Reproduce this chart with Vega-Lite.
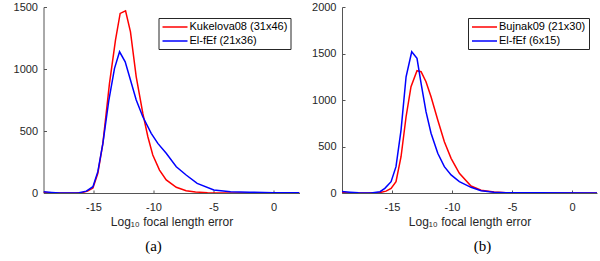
{
  "$schema": "https://vega.github.io/schema/vega-lite/v6.json",
  "padding": {"left": 12.5, "top": 1, "right": 0, "bottom": 0},
  "spacing": 11.5,
  "background": "white",
  "config": {
    "view": {"stroke": null},
    "font": "Liberation Sans",
    "axis": {
      "labelFont": "Liberation Sans", "labelFontSize": 11, "labelColor": "#262626",
      "titleFont": "Liberation Sans", "titleFontSize": 12, "titleFontWeight": "normal", "titleColor": "#262626",
      "domainColor": "#555555", "tickColor": "#555555", "grid": false
    },
    "legend": {
      "symbolType": "M-2.5,0H2.5", "symbolSize": 100, "symbolStrokeWidth": 1.5, "symbolOffset": 7.5,
      "labelFont": "Liberation Sans", "labelFontSize": 11, "labelColor": "#000000",
      "strokeColor": "#262626", "fillColor": "#ffffff", "padding": 3, "rowPadding": 3, "labelOffset": 8.5
    },
    "title": {"font": "Liberation Serif", "fontSize": 15, "fontWeight": "normal", "color": "#000000"}
  },
  "resolve": {"scale": {"color": "independent", "x": "independent", "y": "independent"}, "legend": {"color": "independent"}},
  "hconcat": [
    {
      "width": 256, "height": 186,
      "title": {"text": "(a)", "orient": "bottom", "frame": "group", "dx": -18, "offset": 12},
      "data": {"values": [
        {"method": "Kukelova08 (31x46)", "x": -19.17, "count": 5},
        {"method": "Kukelova08 (31x46)", "x": -18.5, "count": 2},
        {"method": "Kukelova08 (31x46)", "x": -17.5, "count": 0},
        {"method": "Kukelova08 (31x46)", "x": -16.5, "count": 0},
        {"method": "Kukelova08 (31x46)", "x": -15.9, "count": 5},
        {"method": "Kukelova08 (31x46)", "x": -15.5, "count": 15},
        {"method": "Kukelova08 (31x46)", "x": -15.05, "count": 40},
        {"method": "Kukelova08 (31x46)", "x": -14.64, "count": 159},
        {"method": "Kukelova08 (31x46)", "x": -14.22, "count": 400},
        {"method": "Kukelova08 (31x46)", "x": -13.67, "count": 884},
        {"method": "Kukelova08 (31x46)", "x": -13.17, "count": 1233},
        {"method": "Kukelova08 (31x46)", "x": -12.78, "count": 1448},
        {"method": "Kukelova08 (31x46)", "x": -12.33, "count": 1469},
        {"method": "Kukelova08 (31x46)", "x": -11.92, "count": 1300},
        {"method": "Kukelova08 (31x46)", "x": -11.44, "count": 937},
        {"method": "Kukelova08 (31x46)", "x": -10.89, "count": 642},
        {"method": "Kukelova08 (31x46)", "x": -10.47, "count": 454},
        {"method": "Kukelova08 (31x46)", "x": -10.06, "count": 306},
        {"method": "Kukelova08 (31x46)", "x": -9.5, "count": 185},
        {"method": "Kukelova08 (31x46)", "x": -8.94, "count": 105},
        {"method": "Kukelova08 (31x46)", "x": -8.1, "count": 46},
        {"method": "Kukelova08 (31x46)", "x": -7.28, "count": 19},
        {"method": "Kukelova08 (31x46)", "x": -6.5, "count": 8},
        {"method": "Kukelova08 (31x46)", "x": -5.5, "count": 3},
        {"method": "Kukelova08 (31x46)", "x": -4, "count": 1},
        {"method": "Kukelova08 (31x46)", "x": -2, "count": 0},
        {"method": "Kukelova08 (31x46)", "x": 2.17, "count": 0},
        {"method": "El-fEf (21x36)", "x": -19.17, "count": 10},
        {"method": "El-fEf (21x36)", "x": -18.5, "count": 5},
        {"method": "El-fEf (21x36)", "x": -17.8, "count": 1},
        {"method": "El-fEf (21x36)", "x": -17, "count": 0},
        {"method": "El-fEf (21x36)", "x": -16.2, "count": 3},
        {"method": "El-fEf (21x36)", "x": -15.6, "count": 15},
        {"method": "El-fEf (21x36)", "x": -15.05, "count": 51},
        {"method": "El-fEf (21x36)", "x": -14.64, "count": 172},
        {"method": "El-fEf (21x36)", "x": -14.22, "count": 400},
        {"method": "El-fEf (21x36)", "x": -13.72, "count": 750},
        {"method": "El-fEf (21x36)", "x": -13.25, "count": 1005},
        {"method": "El-fEf (21x36)", "x": -12.83, "count": 1139},
        {"method": "El-fEf (21x36)", "x": -12.36, "count": 1058},
        {"method": "El-fEf (21x36)", "x": -11.92, "count": 911},
        {"method": "El-fEf (21x36)", "x": -11.44, "count": 750},
        {"method": "El-fEf (21x36)", "x": -10.89, "count": 615},
        {"method": "El-fEf (21x36)", "x": -10.19, "count": 481},
        {"method": "El-fEf (21x36)", "x": -9.64, "count": 400},
        {"method": "El-fEf (21x36)", "x": -8.94, "count": 320},
        {"method": "El-fEf (21x36)", "x": -8.1, "count": 212},
        {"method": "El-fEf (21x36)", "x": -7.28, "count": 145},
        {"method": "El-fEf (21x36)", "x": -6.36, "count": 78},
        {"method": "El-fEf (21x36)", "x": -4.97, "count": 24},
        {"method": "El-fEf (21x36)", "x": -3.58, "count": 11},
        {"method": "El-fEf (21x36)", "x": -2, "count": 6},
        {"method": "El-fEf (21x36)", "x": 0, "count": 3},
        {"method": "El-fEf (21x36)", "x": 2.17, "count": 2}
      ]},
      "mark": {"type": "line", "strokeWidth": 1.5, "clip": true},
      "encoding": {
        "x": {"field": "x", "type": "quantitative",
          "scale": {"domain": [-19.17, 2.17], "nice": false, "zero": false},
          "axis": {"values": [-15, -10, -5, 0], "labelExpr": "'' + datum.value", "title": "Log₁₀ focal length error", "tickSize": -3, "labelPadding": 11.5, "titlePadding": 3.5}},
        "y": {"field": "count", "type": "quantitative",
          "scale": {"domain": [0, 1500], "nice": false},
          "axis": {"values": [0, 500, 1000, 1500], "labelExpr": "'' + datum.value", "title": null, "tickSize": -3, "labelPadding": 9}},
        "color": {"field": "method", "type": "nominal",
          "scale": {"domain": ["Kukelova08 (31x46)", "El-fEf (21x36)"], "range": ["#ff0000", "#0000ff"]},
          "legend": {"title": null, "orient": "none", "legendX": 115, "legendY": 11}}
      }
    },
    {
      "width": 255, "height": 186,
      "title": {"text": "(b)", "orient": "bottom", "frame": "group", "dx": 13, "offset": 12},
      "data": {"values": [
        {"method": "Bujnak09 (21x30)", "x": -19.17, "count": 3},
        {"method": "Bujnak09 (21x30)", "x": -18, "count": 1},
        {"method": "Bujnak09 (21x30)", "x": -17, "count": 0},
        {"method": "Bujnak09 (21x30)", "x": -16, "count": 5},
        {"method": "Bujnak09 (21x30)", "x": -15.5, "count": 20},
        {"method": "Bujnak09 (21x30)", "x": -15.08, "count": 50},
        {"method": "Bujnak09 (21x30)", "x": -14.67, "count": 122},
        {"method": "Bujnak09 (21x30)", "x": -14.25, "count": 390},
        {"method": "Bujnak09 (21x30)", "x": -13.83, "count": 820},
        {"method": "Bujnak09 (21x30)", "x": -13.42, "count": 1143},
        {"method": "Bujnak09 (21x30)", "x": -12.92, "count": 1315},
        {"method": "Bujnak09 (21x30)", "x": -12.58, "count": 1304},
        {"method": "Bujnak09 (21x30)", "x": -12.17, "count": 1197},
        {"method": "Bujnak09 (21x30)", "x": -11.75, "count": 1035},
        {"method": "Bujnak09 (21x30)", "x": -11.19, "count": 785},
        {"method": "Bujnak09 (21x30)", "x": -10.64, "count": 552},
        {"method": "Bujnak09 (21x30)", "x": -10.08, "count": 373},
        {"method": "Bujnak09 (21x30)", "x": -9.39, "count": 212},
        {"method": "Bujnak09 (21x30)", "x": -8.42, "count": 75},
        {"method": "Bujnak09 (21x30)", "x": -7.58, "count": 30},
        {"method": "Bujnak09 (21x30)", "x": -6.5, "count": 10},
        {"method": "Bujnak09 (21x30)", "x": -5.5, "count": 4},
        {"method": "Bujnak09 (21x30)", "x": -4, "count": 1},
        {"method": "Bujnak09 (21x30)", "x": 2.08, "count": 0},
        {"method": "El-fEf (6x15)", "x": -19.17, "count": 15},
        {"method": "El-fEf (6x15)", "x": -18.5, "count": 8},
        {"method": "El-fEf (6x15)", "x": -17.8, "count": 2},
        {"method": "El-fEf (6x15)", "x": -16.75, "count": 0},
        {"method": "El-fEf (6x15)", "x": -16, "count": 14},
        {"method": "El-fEf (6x15)", "x": -15.6, "count": 50},
        {"method": "El-fEf (6x15)", "x": -15.08, "count": 122},
        {"method": "El-fEf (6x15)", "x": -14.67, "count": 283},
        {"method": "El-fEf (6x15)", "x": -14.25, "count": 677},
        {"method": "El-fEf (6x15)", "x": -13.83, "count": 1250},
        {"method": "El-fEf (6x15)", "x": -13.36, "count": 1519},
        {"method": "El-fEf (6x15)", "x": -12.92, "count": 1448},
        {"method": "El-fEf (6x15)", "x": -12.58, "count": 1179},
        {"method": "El-fEf (6x15)", "x": -12.17, "count": 874},
        {"method": "El-fEf (6x15)", "x": -11.75, "count": 642},
        {"method": "El-fEf (6x15)", "x": -11.19, "count": 427},
        {"method": "El-fEf (6x15)", "x": -10.64, "count": 283},
        {"method": "El-fEf (6x15)", "x": -10.08, "count": 194},
        {"method": "El-fEf (6x15)", "x": -9.39, "count": 122},
        {"method": "El-fEf (6x15)", "x": -8.42, "count": 61},
        {"method": "El-fEf (6x15)", "x": -7.58, "count": 25},
        {"method": "El-fEf (6x15)", "x": -6.5, "count": 8},
        {"method": "El-fEf (6x15)", "x": -5.5, "count": 4},
        {"method": "El-fEf (6x15)", "x": -3, "count": 2},
        {"method": "El-fEf (6x15)", "x": 2.08, "count": 1}
      ]},
      "mark": {"type": "line", "strokeWidth": 1.5, "clip": true},
      "encoding": {
        "x": {"field": "x", "type": "quantitative",
          "scale": {"domain": [-19.17, 2.08], "nice": false, "zero": false},
          "axis": {"values": [-15, -10, -5, 0], "labelExpr": "'' + datum.value", "title": "Log₁₀ focal length error", "tickSize": -3, "labelPadding": 11.5, "titlePadding": 3.5}},
        "y": {"field": "count", "type": "quantitative",
          "scale": {"domain": [0, 2000], "nice": false},
          "axis": {"values": [0, 500, 1000, 1500, 2000], "labelExpr": "'' + datum.value", "title": null, "tickSize": -3, "labelPadding": 9}},
        "color": {"field": "method", "type": "nominal",
          "scale": {"domain": ["Bujnak09 (21x30)", "El-fEf (6x15)"], "range": ["#ff0000", "#0000ff"]},
          "legend": {"title": null, "orient": "none", "legendX": 126, "legendY": 11}}
      }
    }
  ]
}
